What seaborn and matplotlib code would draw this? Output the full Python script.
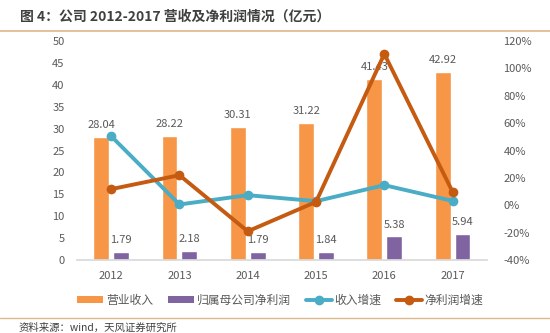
import numpy as np
import pandas as pd
import matplotlib
matplotlib.use("Agg")
import matplotlib.pyplot as plt
from matplotlib.patches import Patch
from matplotlib.lines import Line2D
import seaborn as sns

years = ["2012", "2013", "2014", "2015", "2016", "2017"]
revenue = [28.04, 28.22, 30.31, 31.22, 41.43, 42.92]
net_profit = [1.79, 2.18, 1.79, 1.84, 5.38, 5.94]
revenue_growth = [0.505, 0.006, 0.074, 0.03, 0.147, 0.032]
profit_growth = [0.118, 0.22, -0.19, 0.025, 1.105, 0.098]

left_ticks = [0, 5, 10, 15, 20, 25, 30, 35, 40, 45, 50]
right_ticks = [-0.4, -0.2, 0, 0.2, 0.4, 0.6, 0.8, 1.0, 1.2]

s1, s2, s3, s4 = "营业收入", "归属母公司净利润", "收入增速", "净利润增速"

sns.set_theme(style="white")
plt.rcParams['font.family'] = ['Noto Sans CJK SC', 'DejaVu Sans']

c_orange = "#F79646"
c_purple = "#8064A2"
c_cyan = "#4BACC6"
c_brown = "#C55A11"
c_text = "#595959"

fig = plt.figure(figsize=(5.5, 3.33), dpi=100)
ax = fig.add_axes([0.14, 0.219, 0.745, 0.658])

bars = pd.DataFrame({
    "year": years * 2,
    "value": revenue + net_profit,
    "series": [s1] * 6 + [s2] * 6,
})
sns.barplot(data=bars, x="year", y="value", hue="series", order=years,
            hue_order=[s1, s2], palette=[c_orange, c_purple],
            width=0.58, gap=0.2, ax=ax, legend=False, saturation=1)
for cont in ax.containers:
    ax.bar_label(cont, fmt="%.2f", padding=5, fontsize=8, color=c_text)

ax.set_ylim(0, 50)
ax.set_yticks(left_ticks)
ax.set_xlim(-0.5, 5.5)
ax.set_xlabel("")
ax.set_ylabel("")
for sp in ["top", "right", "left"]:
    ax.spines[sp].set_visible(False)
ax.spines["bottom"].set_color("#D9D9D9")
ax.tick_params(axis="both", labelsize=8, colors=c_text, length=0)
ax.tick_params(axis="y", pad=9)
ax.tick_params(axis="x", pad=8)

ax2 = ax.twinx()
lines = pd.DataFrame({"x": np.arange(6), "rg": revenue_growth, "pg": profit_growth})
sns.lineplot(data=lines, x="x", y="rg", ax=ax2, color=c_cyan, linewidth=2.8,
             marker="o", markersize=7, markeredgewidth=0)
sns.lineplot(data=lines, x="x", y="pg", ax=ax2, color=c_brown, linewidth=2.8,
             marker="o", markersize=7, markeredgewidth=0)
ax2.set_ylim(-0.4, 1.2)
ax2.set_yticks(right_ticks)
ax2.set_yticklabels([f"{int(round(v*100))}%" for v in right_ticks])
ax2.set_xlim(-0.5, 5.5)
ax2.set_xlabel("")
ax2.set_ylabel("")
for sp in ax2.spines.values():
    sp.set_visible(False)
ax2.tick_params(axis="y", labelsize=8, colors=c_text, length=0, pad=12)

handles = [
    Patch(facecolor=c_orange, edgecolor="none"),
    Patch(facecolor=c_purple, edgecolor="none"),
    Line2D([0], [0], color=c_cyan, lw=2.8, marker="o", markersize=6),
    Line2D([0], [0], color=c_brown, lw=2.8, marker="o", markersize=6),
]
fig.legend(handles, [s1, s2, s3, s4], loc="center", bbox_to_anchor=(0.51, 0.098),
           ncol=4, frameon=False, fontsize=8.5, handlelength=2.2, handleheight=0.45,
           handletextpad=0.2, columnspacing=1.3, labelcolor=c_text)

fig.text(0.036, 0.95, "图 4：公司 2012-2017 营收及净利润情况（亿元）", fontsize=10,
         fontweight="bold", color="#404040", va="center", ha="left")
fig.add_artist(Line2D([0.0, 1.0], [0.907, 0.907], color="#DDB88A", lw=1.2,
                      transform=fig.transFigure))
fig.add_artist(Line2D([0.0, 1.0], [0.045, 0.045], color="#DDB88A", lw=1.0,
                      transform=fig.transFigure))
fig.text(0.033, 0.016, "资料来源：wind，天风证券研究所", fontsize=7.5,
         color="#404040", va="center", ha="left")

fig.savefig("out.png", dpi=100)
